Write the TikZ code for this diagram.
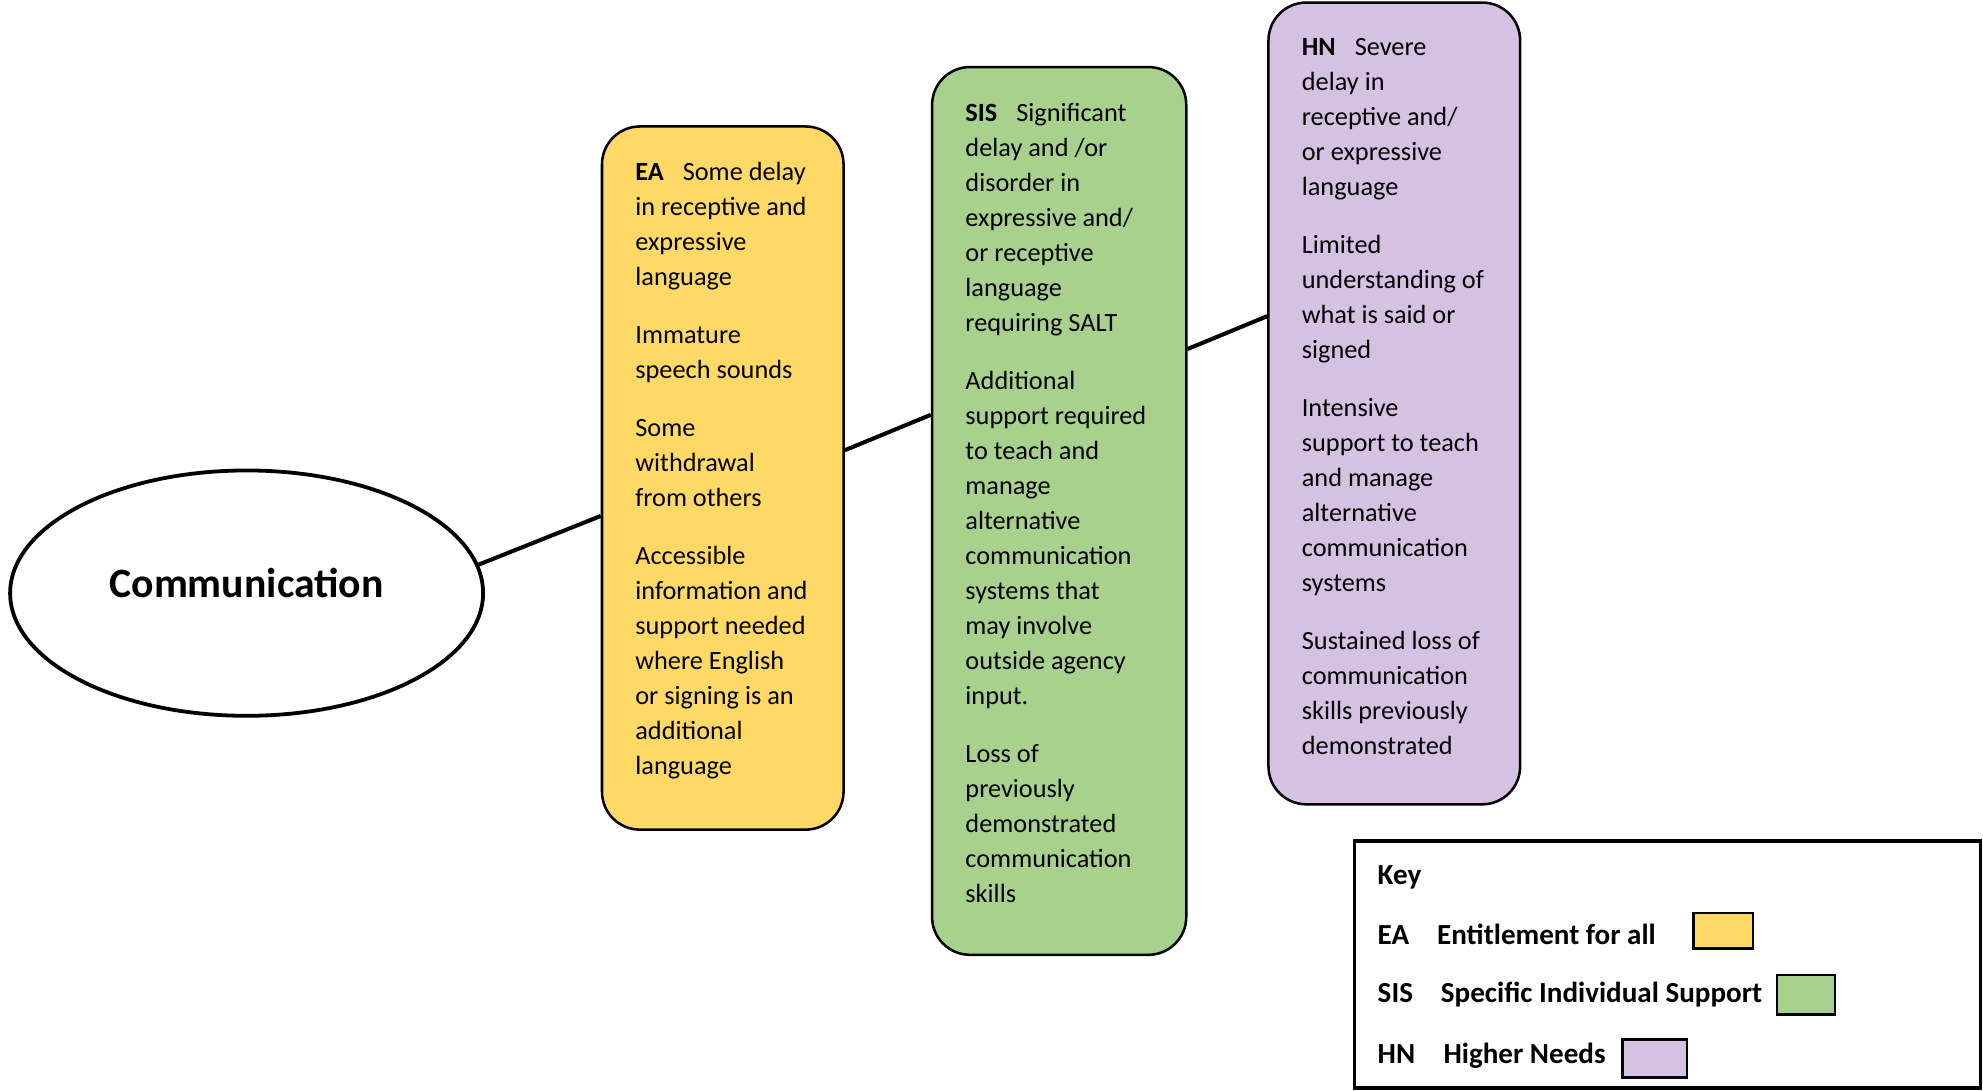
\documentclass[tikz,border=0pt]{standalone}
\usepackage{fontspec}
\setmainfont{Carlito}
\usetikzlibrary{shapes.geometric,positioning}

\definecolor{eayellow}{HTML}{FFD966}
\definecolor{sisgreen}{HTML}{A9D18E}
\definecolor{hnpurple}{HTML}{D5C1E2}

\tikzset{
    levelbox/.style={draw, line width=1pt, rounded corners=15pt, inner sep=0pt},
    boxtext/.style={anchor=north west, inner sep=0pt, align=left, font=\fontsize{10.4}{13.85}\selectfont},
    keytext/.style={anchor=base west, inner sep=0pt, font=\fontsize{11.5}{14}\selectfont\bfseries},
    swatch/.style={draw, line width=1pt, inner sep=0pt},
    link/.style={line width=1.6pt}
}

\begin{document}
\begin{tikzpicture}[x=0.5pt, y=-0.5pt]

    \useasboundingbox (0,0) rectangle (1568,862);

    %Topic
    \node[draw, ellipse, line width=1.5pt, inner sep=0pt, minimum width=187pt, minimum height=97pt] (comm) at (195,469) {};
    \node[font=\fontsize{16.5}{20}\selectfont\bfseries] (commtext) at ([yshift=4pt]comm.center) {Communication};

    %Levels
    \node[levelbox, fill=eayellow, minimum width=95.5pt, minimum height=278pt] (ea) at (571.5,378) {};
    \node[levelbox, fill=sisgreen, minimum width=100.5pt, minimum height=351pt] (sis) at (837.5,404) {};
    \node[levelbox, fill=hnpurple, minimum width=99.5pt, minimum height=317pt] (hn) at (1102.5,319) {};

    %Level texts
    \node[boxtext] (eatext) at ([xshift=13.5pt, yshift=-14.5pt]ea.north west) {%
        \textbf{EA}\hspace{7.5pt}Some delay\\ in receptive and\\ expressive\\ language\\[9pt]
        Immature\\ speech sounds\\[9pt]
        Some\\ withdrawal\\ from others\\[9pt]
        Accessible\\ information and\\ support needed\\ where English\\ or signing is an\\ additional\\ language};
    \node[boxtext] (sistext) at ([xshift=13.5pt, yshift=-14.5pt]sis.north west) {%
        \textbf{SIS}\hspace{7.5pt}Significant\\ delay and /or\\ disorder in\\ expressive and/\\ or receptive\\ language\\ requiring SALT\\[9pt]
        Additional\\ support required\\ to teach and\\ manage\\ alternative\\ communication\\ systems that\\ may involve\\ outside agency\\ input.\\[9pt]
        Loss of\\ previously\\ demonstrated\\ communication\\ skills};
    \node[boxtext] (hntext) at ([xshift=13.5pt, yshift=-14.5pt]hn.north west) {%
        \textbf{HN}\hspace{7.5pt}Severe\\ delay in\\ receptive and/\\ or expressive\\ language\\[9pt]
        Limited\\ understanding of\\ what is said or\\ signed\\[9pt]
        Intensive\\ support to teach\\ and manage\\ alternative\\ communication\\ systems\\[9pt]
        Sustained loss of\\ communication\\ skills previously\\ demonstrated};

    %Links
    \draw[link] (comm.7) -- ([yshift=-15pt]ea.west);
    \draw[link] ([yshift=11pt]ea.east) -- ([yshift=38pt]sis.west);
    \draw[link] ([yshift=64pt]sis.east) -- ([yshift=34.5pt]hn.west);

    %Key
    \node[draw, line width=1.5pt, inner sep=0pt, minimum width=247.5pt, minimum height=97.5pt] (key) at (1318.5,762.5) {};
    \node[keytext] (keytitle) at (1089,699) {Key};

    \node[keytext] (keyea) at (1089,746.5) {EA};
    \node[keytext] (keyeadesc) at (1136,746.5) {Entitlement for all};
    \node[swatch, fill=eayellow, minimum width=23.5pt, minimum height=14pt] (keyeaswatch) at (1362.5,736) {};

    \node[keytext] (keysis) at (1089,793) {SIS};
    \node[keytext] (keysisdesc) at (1139,793) {Specific Individual Support};
    \node[swatch, fill=sisgreen, minimum width=23pt, minimum height=15.5pt] (keysisswatch) at (1428,786.5) {};

    \node[keytext] (keyhn) at (1089,841) {HN};
    \node[keytext] (keyhndesc) at (1141,841) {Higher Needs};
    \node[swatch, fill=hnpurple, minimum width=25.5pt, minimum height=15pt] (keyhnswatch) at (1308.5,837) {};

\end{tikzpicture}
\end{document}
